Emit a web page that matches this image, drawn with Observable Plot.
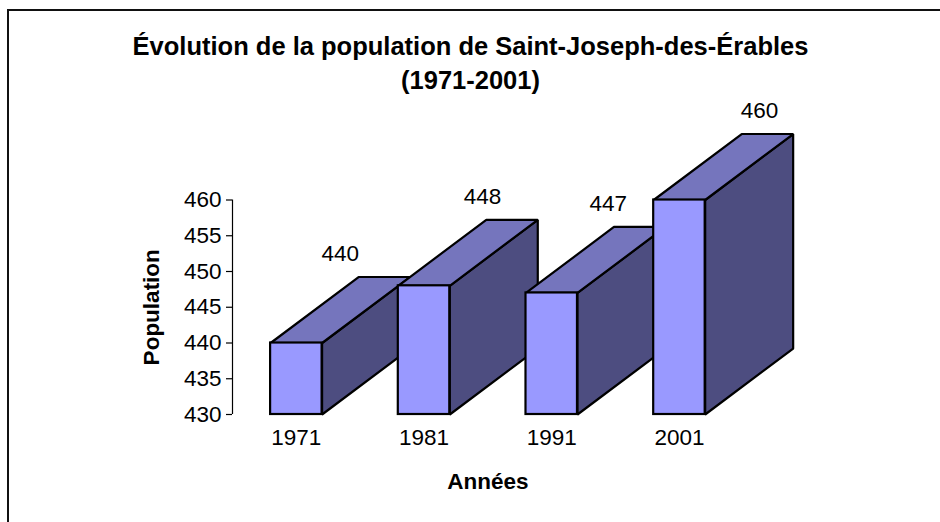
<!DOCTYPE html>
<html>
<head>
<meta charset="utf-8">
<script src="https://cdn.jsdelivr.net/npm/d3@7"></script>
<script src="https://cdn.jsdelivr.net/npm/@observablehq/plot@0.6"></script>
<style>
  html, body { margin: 0; padding: 0; background: #fff; }
  #wrap { position: relative; width: 940px; height: 522px; overflow: hidden; }
  #frame { position: absolute; left: 7px; top: 9px; width: 1000px; height: 600px;
           border-left: 2px solid #111; border-top: 2px solid #111; pointer-events: none; }
</style>
</head>
<body>
<div id="wrap"><div id="frame"></div></div>
<script>
// ---- data ----
const years = ["1971", "1981", "1991", "2001"];
const population = [440, 448, 447, 460];
const yTicks = [430, 435, 440, 445, 450, 455, 460];
const title1 = "Évolution de la population de Saint-Joseph-des-Érables";
const title2 = "(1971-2001)";
const xTitle = "Années";
const yTitle = "Population";

// ---- geometry (style constants) ----
const base = 430;
const hw = 0.2016;        // half width of front face (category units)
const depthX = 0.689;     // 3D depth offset in category units
const depthY = 9.23;      // 3D depth offset in population units
const font = "'Liberation Sans', Arial, Helvetica, sans-serif";

const bars = years.map((yr, i) => ({i, year: yr, v: population[i]}));

const tops = bars.flatMap(b => [
  {i: b.i, x: b.i - hw, y: b.v},
  {i: b.i, x: b.i + hw, y: b.v},
  {i: b.i, x: b.i + hw + depthX, y: b.v + depthY},
  {i: b.i, x: b.i - hw + depthX, y: b.v + depthY}
]);
const sides = bars.flatMap(b => [
  {i: b.i, x: b.i + hw, y: base},
  {i: b.i, x: b.i + hw, y: b.v},
  {i: b.i, x: b.i + hw + depthX, y: b.v + depthY},
  {i: b.i, x: b.i + hw + depthX, y: base + depthY}
]);

const chart = Plot.plot({
  width: 940,
  height: 522,
  marginLeft: 232,
  marginRight: 120.6,
  marginTop: 199.5,
  marginBottom: 108,
  style: {fontFamily: font, fontSize: "22.5px", color: "#000", background: "transparent"},
  x: {type: "linear", domain: [-0.5, 4.1], axis: null},
  y: {domain: [430, 460], axis: null},
  marks: [
    Plot.line(sides, {x: "x", y: "y", z: "i", curve: "linear-closed",
      fill: "#4D4D80", stroke: "#000", strokeWidth: 2.2, strokeLinejoin: "miter"}),
    Plot.line(tops, {x: "x", y: "y", z: "i", curve: "linear-closed",
      fill: "#7575BD", stroke: "#000", strokeWidth: 2.2, strokeLinejoin: "miter"}),
    Plot.rect(bars, {x1: d => d.i - hw, x2: d => d.i + hw, y1: base, y2: "v",
      fill: "#9999FF", stroke: "#000", strokeWidth: 2.2}),
    Plot.ruleX([-0.5], {y1: 430, y2: 460, stroke: "#000", strokeWidth: 1.2}),
    Plot.axisY({ticks: yTicks, tickSize: 6, tickPadding: 5, label: null,
      fontSize: 22.5, stroke: "#000", strokeWidth: 1.2}),
    Plot.axisX({ticks: [0, 1, 2, 3], tickFormat: i => years[i], tickSize: 0,
      tickPadding: 15, label: null, fontSize: 22.5}),
    Plot.text(bars, {x: d => d.i + (44 + 1.8 * (d.v - 440)) / 127.7, y: "v", dy: -89,
      text: d => String(d.v), fontSize: 22.5, lineAnchor: "middle"}),
    Plot.text([title1], {frameAnchor: "top", dx: -55.7, dy: -153.5, lineAnchor: "middle",
      fontSize: 25.5, fontWeight: "bold"}),
    Plot.text([title2], {frameAnchor: "top", dx: -55.7, dy: -119.5, lineAnchor: "middle",
      fontSize: 25.5, fontWeight: "bold"}),
    Plot.text([yTitle], {frameAnchor: "left", dx: -80.3, rotate: -90, lineAnchor: "middle",
      textAnchor: "middle", fontSize: 22.5, fontWeight: "bold"}),
    Plot.text([xTitle], {frameAnchor: "bottom", dx: -38.2, dy: 67, lineAnchor: "middle",
      fontSize: 22.5, fontWeight: "bold"})
  ]
});
document.getElementById("wrap").prepend(chart);
</script>
</body>
</html>
